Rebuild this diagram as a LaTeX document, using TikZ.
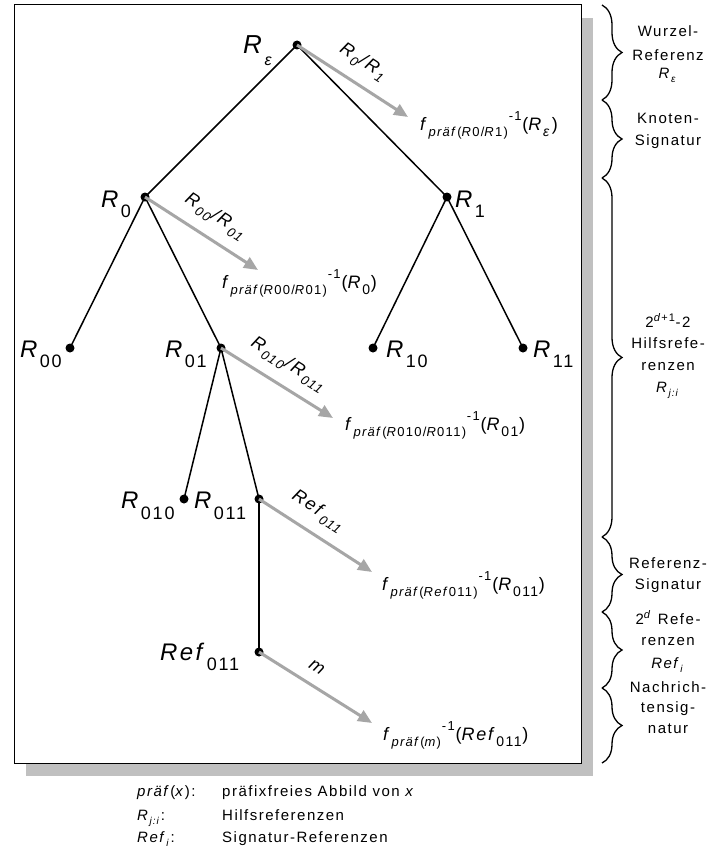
\documentclass[tikz,border=0pt]{standalone}
\usepackage{fontspec}
\setmainfont{Liberation Sans}[LetterSpace=10]
\usetikzlibrary{arrows.meta,decorations.pathreplacing}
\definecolor{arrgray}{HTML}{A6A6A6}
\definecolor{shadowgray}{HTML}{C0C0C0}
\newcommand{\Sz}[1]{\fontsize{#1}{#1}\selectfont}
\newcommand{\lo}[3]{\raisebox{-#1pt}{\Sz{#2}#3}\kern0.8pt\relax}
\newcommand{\hi}[3]{\raisebox{#1pt}{\Sz{#2}#3}\kern0.8pt\relax}
\begin{document}
\begin{tikzpicture}[x=1pt,y=-1pt,
  dot/.style={circle,fill=black,inner sep=0pt,minimum size=9pt},
  edge/.style={line width=1.5pt,black},
  garrow/.style={line width=3pt,arrgray,-{Triangle[length=14pt,width=12pt]}},
  lab/.style={inner sep=0pt,anchor=base west},
  alab/.style={sloped,above=11pt,inner sep=0pt,text=black,font=\Sz{18}\itshape},
  brc/.style={decorate,decoration={brace,amplitude=20pt},line width=1.3pt},
  btxt/.style={inner sep=0pt,anchor=base,font=\Sz{15}},
  ltxt/.style={inner sep=0pt,anchor=base west,font=\Sz{15}},
]
\useasboundingbox (0,0) rectangle (709,867);
% frame with shadow
\fill[shadowgray] (26,18) rectangle (593,776);
\draw[fill=white,line width=1pt] (14,5) rectangle (581,763);

% tree nodes
\node[dot] (re) at (297,45) {};
\node[dot] (r0) at (145,197) {};
\node[dot] (r1) at (447,197) {};
\node[dot] (r00) at (70,348) {};
\node[dot] (r01) at (221,348) {};
\node[dot] (r10) at (373,348) {};
\node[dot] (r11) at (523,348) {};
\node[dot] (r010) at (184,499) {};
\node[dot] (r011) at (259,499) {};
\node[dot] (ref) at (259,652) {};

% edges
\draw[edge] (re.center) -- (r0.center);
\draw[edge] (re.center) -- (r1.center);
\draw[edge] (r0.center) -- (r00.center);
\draw[edge] (r0.center) -- (r01.center);
\draw[edge] (r1.center) -- (r10.center);
\draw[edge] (r1.center) -- (r11.center);
\draw[edge] (r01.center) -- (r010.center);
\draw[edge] (r01.center) -- (r011.center);
\draw[edge] (r011.center) -- (ref.center);

% tree labels
\node[lab] (lre) at (243,53) {\Sz{26}\textit{R}\lo{13}{16}{\textit{ε}}};
\node[lab] (lr0) at (101,207) {\Sz{24}\textit{R}\lo{10}{18}{0}};
\node[lab] (lr1) at (455,207) {\Sz{24}\textit{R}\lo{10}{18}{1}};
\node[lab] (lr00) at (20,357) {\Sz{24}\textit{R}\lo{10}{18}{00}};
\node[lab] (lr01) at (165,357) {\Sz{24}\textit{R}\lo{10}{18}{01}};
\node[lab] (lr10) at (386,357) {\Sz{24}\textit{R}\lo{10}{18}{10}};
\node[lab] (lr11) at (533,357) {\Sz{24}\textit{R}\lo{10}{18}{11}};
\node[lab] (lr010) at (121,508) {\Sz{24}\textit{R}\lo{11}{18}{010}};
\node[lab] (lr011) at (194,508) {\Sz{24}\textit{R}\lo{11}{18}{011}};
\node[lab] (lref) at (160,660) {\Sz{24}\textit{Ref}\lo{10}{18}{011}};

% arrow targets
\coordinate (t1) at (408,117);
\coordinate (t2) at (258,270);
\coordinate (t3) at (333,418);
\coordinate (t4) at (372,572);
\coordinate (t5) at (372,723);

\draw[garrow] (re.center) -- (t1) node[alab,pos=0.49] (a1) {R\/\lo{5}{13}{0}/R\/\lo{5}{13}{1}};
\draw[garrow] (r0.center) -- (t2) node[alab,pos=0.52] (a2) {R\/\lo{5}{13}{00}/R\/\lo{5}{13}{01}};
\draw[garrow] (r01.center) -- (t3) node[alab,pos=0.5] (a3) {R\/\lo{5}{13}{010}/R\/\lo{5}{13}{011}};
\draw[garrow] (r011.center) -- (t4) node[alab,pos=0.42] (a4) {Ref\/\lo{5}{13}{011}};
\draw[garrow] (ref.center) -- (t5) node[alab,pos=0.43] (a5) {m};

% target texts
\node[lab] (f1) at (420,130) {\Sz{18}\textit{f}\lo{6}{13}{\textit{präf}(\textit{R}0/\textit{R}1)}\hi{10}{13}{-1}(\textit{R}\lo{6}{14}{\textit{ε}})};
\node[lab] (f2) at (222,288) {\Sz{18}\textit{f}\lo{6}{13}{\textit{präf}(\textit{R}00/\textit{R}01)}\hi{10}{13}{-1}(\textit{R}\lo{6}{14}{0})};
\node[lab] (f3) at (345,430) {\Sz{18}\textit{f}\lo{6}{13}{\textit{präf}(\textit{R}010/\textit{R}011)}\hi{10}{13}{-1}(\textit{R}\lo{6}{14}{01})};
\node[lab] (f4) at (382,590) {\Sz{18}\textit{f}\lo{6}{13}{\textit{präf}(\textit{Ref}011)}\hi{10}{13}{-1}(\textit{R}\lo{6}{14}{011})};
\node[lab] (f5) at (383,740) {\Sz{18}\textit{f}\lo{6}{13}{\textit{präf}(\textit{m})}\hi{10}{13}{-1}(\textit{Ref}\lo{6}{14}{011})};

% braces
\draw[brc] (602,5) -- (602,100);
\draw[brc] (602,100) -- (602,178);
\draw[brc] (602,178) -- (602,537);
\draw[brc] (602,537) -- (602,612);
\draw[brc] (602,612) -- (602,688);
\draw[brc] (602,688) -- (602,763);

% brace texts
\node[btxt] (b1a) at (668,37) {Wurzel-};
\node[btxt] (b1b) at (668,60) {Referenz};
\node[btxt] (b1c) at (668,78) {\textit{R}\lo{4}{10}{\textit{ε}}};
\node[btxt] (b2a) at (668,123) {Knoten-};
\node[btxt] (b2b) at (668,145) {Signatur};
\node[btxt] (b3a) at (668,327) {2\hi{6}{11}{\textit{d}+1}-2};
\node[btxt] (b3b) at (668,348) {Hilfsrefe-};
\node[btxt] (b3c) at (668,370) {renzen};
\node[btxt] (b3d) at (668,392) {\textit{R}\lo{4}{10}{\textit{j:i}}};
\node[btxt] (b4a) at (668,568) {Referenz-};
\node[btxt] (b4b) at (668,589) {Signatur};
\node[btxt] (b5a) at (668,624) {2\hi{6}{11}{\textit{d}}\ Refe-};
\node[btxt] (b5b) at (668,645) {renzen};
\node[btxt] (b5c) at (668,668) {\textit{Ref}\lo{4}{10}{\textit{i}}};
\node[btxt] (b6a) at (668,692) {Nachrich-};
\node[btxt] (b6b) at (668,712) {tensig-};
\node[btxt] (b6c) at (668,733) {natur};

% legend
\node[ltxt] (k1) at (137,796) {\textit{präf}(\textit{x}):};
\node[ltxt] (v1) at (222,796) {präfixfreies Abbild von \textit{x}};
\node[ltxt] (k2) at (137,820) {\textit{R}\lo{4}{10}{\textit{j:i}}:};
\node[ltxt] (v2) at (222,820) {Hilfsreferenzen};
\node[ltxt] (k3) at (137,842) {\textit{Ref}\lo{4}{10}{\textit{i}}:};
\node[ltxt] (v3) at (222,842) {Signatur-Referenzen};
\end{tikzpicture}
\end{document}
